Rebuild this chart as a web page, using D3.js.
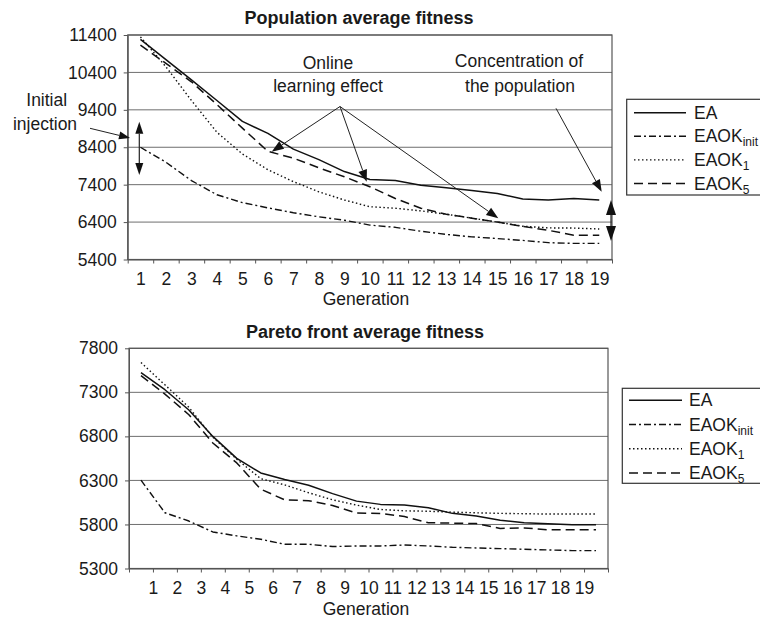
<!DOCTYPE html>
<html><head><meta charset="utf-8">
<script src="https://cdn.jsdelivr.net/npm/d3@7"></script>
<style>
body{margin:0;background:#fff;overflow:hidden}
text{font-family:"Liberation Sans",Arial,Helvetica,sans-serif;fill:#1a1a1a}
</style></head>
<body><svg id="c" width="760" height="618"></svg>
<script>
// ---------- DATA ----------
const seriesNames = ["EA", "EAOK_init", "EAOK_1", "EAOK_5"];

// Top chart: Population average fitness (generations 1..19)
const topGenerations = [1,2,3,4,5,6,7,8,9,10,11,12,13,14,15,16,17,18,19];
const topEA       = [11285,10740,10200,9650,9090,8770,8350,8070,7750,7540,7510,7385,7320,7245,7165,7015,6990,7030,6990];
const topEAOKinit = [8400,8000,7510,7130,6920,6780,6650,6540,6450,6320,6260,6155,6070,6005,5960,5910,5850,5830,5830];
const topEAOK1    = [11350,10550,9650,8800,8220,7800,7480,7210,6990,6810,6770,6700,6610,6505,6400,6290,6245,6240,6215];
const topEAOK5    = [11130,10640,10150,9540,8910,8290,8110,7850,7610,7345,7030,6770,6610,6505,6400,6285,6180,6050,6050];
const topYTicks   = [5400,6400,7400,8400,9400,10400,11400];

// Bottom chart: Pareto front average fitness (20 points, labels 1..19 on boundaries)
const bottomPoints     = [0,1,2,3,4,5,6,7,8,9,10,11,12,13,14,15,16,17,18,19];
const bottomTickLabels = [1,2,3,4,5,6,7,8,9,10,11,12,13,14,15,16,17,18,19];
const botEA       = [7525,7330,7100,6800,6550,6385,6310,6245,6150,6065,6028,6020,5990,5926,5896,5847,5820,5809,5798,5798];
const botEAOKinit = [6303,5933,5839,5715,5670,5632,5575,5575,5549,5556,5556,5567,5556,5541,5533,5526,5518,5511,5503,5503];
const botEAOK1    = [7638,7385,7130,6790,6540,6320,6250,6160,6080,6020,5970,5955,5950,5940,5932,5926,5922,5918,5918,5918];
const botEAOK5    = [7490,7280,7046,6725,6499,6200,6080,6070,6015,5930,5925,5890,5820,5815,5810,5755,5760,5740,5740,5740];
const botYTicks   = [5300,5800,6300,6800,7300,7800];

// ---------- STYLE ----------
const dashStyles = {"EA": null, "EAOK_init": "7,3,2,3", "EAOK_1": "1.5,2.5", "EAOK_5": "9,5"};
const lineWidths = {"EA": 1.5, "EAOK_init": 1.4, "EAOK_1": 1.4, "EAOK_5": 1.5};
const FS = 17.5;
const svg = d3.select("#c");

function drawChart(o) {
  const g = svg.append("g");
  const y = d3.scaleLinear().domain(o.yDomain).range([o.bottom, o.top]);
  const x = o.x;
  // gridlines
  g.append("g").selectAll("line").data(o.yTicks).join("line")
    .attr("x1", o.left).attr("x2", o.right)
    .attr("y1", d => y(d)).attr("y2", d => y(d))
    .attr("stroke", "#6e6e6e").attr("stroke-width", 1);
  // frame
  g.append("rect").attr("x", o.left).attr("y", o.top)
    .attr("width", o.right - o.left).attr("height", o.bottom - o.top)
    .attr("fill", "none").attr("stroke", "#555").attr("stroke-width", 1.2);
  // y axis
  const ya = g.append("g").attr("transform", `translate(${o.left},0)`)
    .call(d3.axisLeft(y).tickValues(o.yTicks).tickSize(4).tickSizeOuter(0).tickPadding(7).tickFormat(d3.format("d")));
  ya.select(".domain").attr("stroke", "#555");
  ya.selectAll(".tick line").attr("stroke", "#555");
  ya.selectAll("text").style("font-size", FS + "px").attr("fill", "#1a1a1a");
  // x axis ticks (boundaries)
  const xt = g.append("g").attr("transform", `translate(0,${o.bottom})`)
    .call(d3.axisBottom(x).tickValues(o.xTickPos).tickSize(4).tickSizeOuter(0).tickFormat(""));
  xt.select(".domain").attr("stroke", "#555");
  xt.selectAll(".tick line").attr("stroke", "#555");
  // x axis labels
  const xl = g.append("g").attr("transform", `translate(0,${o.bottom})`)
    .call(d3.axisBottom(x).tickValues(o.xLabelPos).tickSize(0).tickPadding(13).tickFormat((d, i) => o.xLabels[i]));
  xl.select(".domain").remove();
  xl.selectAll("text").style("font-size", FS + "px").attr("fill", "#1a1a1a");
  // title
  g.append("text").attr("x", o.titleX).attr("y", o.titleY).attr("text-anchor", "middle")
    .style("font-size", "18px").style("font-weight", "bold").text(o.title);
  // x axis title
  g.append("text").attr("x", o.xTitleX).attr("y", o.xTitleY).attr("text-anchor", "middle")
    .style("font-size", FS + "px").text("Generation");
  // lines
  const line = d3.line().x(d => x(d[0])).y(d => y(d[1]));
  o.series.forEach((vals, si) => {
    const name = seriesNames[si];
    const pts = vals.map((v, i) => [o.xPointPos[i], v]);
    g.append("path").datum(pts).attr("d", line)
      .attr("fill", "none").attr("stroke", "#111")
      .attr("stroke-width", lineWidths[name])
      .attr("stroke-dasharray", dashStyles[name])
      .attr("stroke-linejoin", "round");
  });
  // legend
  const L = o.legend;
  g.append("rect").attr("x", L.x).attr("y", L.y).attr("width", 200).attr("height", L.h)
    .attr("fill", "#fff").attr("stroke", "#333").attr("stroke-width", 1.2);
  seriesNames.forEach((name, i) => {
    const ry = L.y + L.first + i * L.step;
    g.append("line").attr("x1", L.lx1).attr("x2", L.lx2).attr("y1", ry).attr("y2", ry)
      .attr("stroke", "#111").attr("stroke-width", lineWidths[name])
      .attr("stroke-dasharray", dashStyles[name]);
    const t = g.append("text").attr("x", L.tx).attr("y", ry + 6).style("font-size", FS + "px");
    const parts = name.split("_");
    t.append("tspan").text(parts[0]);
    if (parts[1]) t.append("tspan").attr("dy", 4).style("font-size", "12px").text(parts[1]);
  });
  return {x, y, g};
}

// ---------- TOP CHART ----------
const xTop = d3.scaleLinear().domain([0, 19]).range([127.7, 612]);
const topChart = drawChart({
  left: 127.7, right: 612, top: 35, bottom: 259.5,
  x: xTop, yDomain: [5400, 11400], yTicks: topYTicks,
  xTickPos: d3.range(0, 20), xLabelPos: topGenerations.map(gn => gn - 0.5), xLabels: topGenerations,
  xPointPos: topGenerations.map(gn => gn - 0.5),
  series: [topEA, topEAOKinit, topEAOK1, topEAOK5],
  title: "Population average fitness", titleX: 359, titleY: 23.5,
  xTitleX: 366, xTitleY: 305,
  legend: {x: 626.7, y: 99.3, h: 95.7, first: 13.4, step: 23.6, lx1: 634, lx2: 686, tx: 694}
});

// ---------- BOTTOM CHART ----------
const xBot = d3.scaleLinear().domain([0, 20]).range([129, 608]);
drawChart({
  left: 129, right: 608, top: 348.3, bottom: 568.5,
  x: xBot, yDomain: [5300, 7800], yTicks: botYTicks,
  xTickPos: d3.range(0, 21), xLabelPos: bottomTickLabels, xLabels: bottomTickLabels,
  xPointPos: bottomPoints.map(p => p + 0.5),
  series: [botEA, botEAOKinit, botEAOK1, botEAOK5],
  title: "Pareto front average fitness", titleX: 365, titleY: 338,
  xTitleX: 366, xTitleY: 615,
  legend: {x: 622.3, y: 388.3, h: 95, first: 12, step: 24.2, lx1: 629, lx2: 682, tx: 689}
});

// ---------- ANNOTATIONS (top chart) ----------
const ann = svg.append("g");
function arrowHead(x1, y1, x2, y2, len, w) {
  const a = Math.atan2(y2 - y1, x2 - x1);
  const bx = x2 - len * Math.cos(a), by = y2 - len * Math.sin(a);
  const px = -Math.sin(a) * w / 2, py = Math.cos(a) * w / 2;
  ann.append("path").attr("d", `M${x2},${y2}L${bx + px},${by + py}L${bx - px},${by - py}Z`).attr("fill", "#111");
  return [bx, by];
}
function arrow(x1, y1, x2, y2, len = 11, w = 8) {
  const [bx, by] = arrowHead(x1, y1, x2, y2, len, w);
  ann.append("line").attr("x1", x1).attr("y1", y1).attr("x2", bx).attr("y2", by)
    .attr("stroke", "#222").attr("stroke-width", 1);
}
function dblArrow(x, y1, y2, len = 11, w = 8) {
  const [, b1] = arrowHead(x, (y1 + y2) / 2, x, y1, len, w);
  const [, b2] = arrowHead(x, (y1 + y2) / 2, x, y2, len, w);
  ann.append("line").attr("x1", x).attr("x2", x).attr("y1", b1).attr("y2", b2)
    .attr("stroke", "#222").attr("stroke-width", 1.2);
}
function label(xc, yb, str) {
  ann.append("text").attr("x", xc).attr("y", yb).attr("text-anchor", "middle")
    .style("font-size", FS + "px").text(str);
}
// Initial injection
label(46.7, 106, "Initial");
label(45, 130, "injection");
arrow(90, 128.3, 130, 138, 11, 8);
dblArrow(139.3, 121.7, 175, 12, 8);
// Online learning effect
label(328, 68.5, "Online");
label(328, 92, "learning effect");
arrow(340, 106.5, 271.7, 151.7, 12, 9);
arrow(340, 106.5, 366.7, 181.7, 12, 9);
arrow(340, 106.5, 498.3, 218.3, 12, 9);
// Concentration of the population
label(519, 67, "Concentration of");
label(520, 92, "the population");
arrow(556, 108.3, 601.7, 191.7, 12, 9);
dblArrow(611, 200, 241, 15, 10);
</script>
</body></html>
